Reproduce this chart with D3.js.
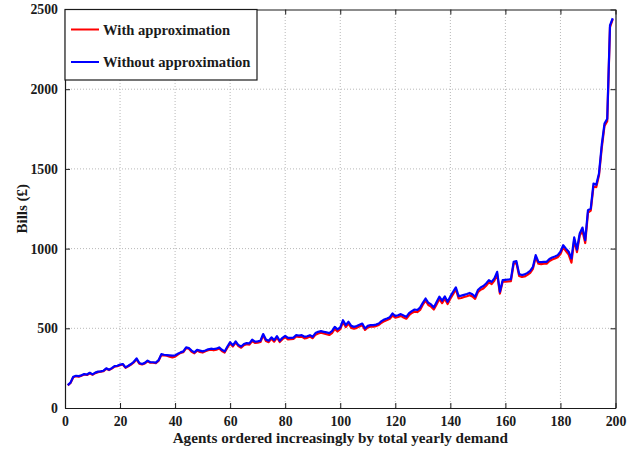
<!DOCTYPE html>
<html>
<head>
<meta charset="utf-8">
<script src="https://cdn.jsdelivr.net/npm/d3@7"></script>
<style>
  body { margin: 0; background: #fff; }
  svg text { font-family: "Liberation Serif", "Times New Roman", serif; font-weight: bold; fill: #1a1a1a; }
</style>
</head>
<body>
<svg id="chart" width="639" height="449"></svg>
<script>
// bills per agent, agents sorted by yearly demand (1..199)
const withoutApprox = [
  144,159,196,202,200,205,213,210,221,211,
  222,228,230,234,249,240,250,263,265,272,
  276,255,265,276,290,311,282,276,283,297,
  287,287,285,300,338,334,332,330,328,330,
  340,349,355,380,376,360,349,365,360,355,
  361,368,372,370,372,380,365,355,386,413,
  393,418,395,386,401,407,405,428,416,418,
  422,464,430,422,443,426,451,422,440,453,
  440,440,442,457,455,457,447,450,457,447,
  470,478,482,478,474,470,482,509,493,505,
  551,520,541,515,509,514,522,530,499,515,
  520,520,523,530,545,555,562,570,593,577,
  582,589,580,572,595,608,618,615,630,660,
  687,660,650,631,665,698,673,700,666,700,
  729,757,702,705,710,715,722,714,698,740,
  756,765,781,802,791,813,854,729,802,804,
  806,808,917,921,840,834,838,848,860,885,
  959,917,915,917,917,935,944,950,959,980,
  1021,1000,980,938,1070,994,1095,1132,1053,1241,
  1251,1408,1400,1471,1650,1784,1815,2400,2445
];

const withApprox = [
  142,157,193,199,197,203,210,207,218,209,
  219,225,228,231,246,238,247,260,262,268,
  273,252,262,272,286,305,278,273,280,293,
  284,284,282,296,332,330,328,322,318,322,
  335,346,350,375,372,352,343,360,352,348,
  356,362,366,362,366,374,358,348,378,405,
  386,410,388,378,394,400,398,420,408,410,
  414,456,420,413,435,416,442,414,432,444,
  430,432,434,449,446,448,437,440,448,438,
  460,468,472,468,463,458,470,496,480,494,
  540,508,530,503,498,503,512,520,490,505,
  510,511,514,521,535,545,552,560,580,567,
  571,578,568,560,582,596,605,602,615,648,
  674,646,636,618,650,684,658,686,652,686,
  714,745,688,690,696,701,708,700,685,726,
  742,750,767,788,778,800,842,718,792,792,
  794,796,905,910,828,822,825,835,848,873,
  946,905,903,905,905,922,932,938,946,966,
  1008,985,962,912,1055,978,1082,1110,1035,1225,
  1238,1390,1385,1460,1630,1770,1800,2390,2440
];

const xTicks = [0, 20, 40, 60, 80, 100, 120, 140, 160, 180, 200];
const yTicks = [0, 500, 1000, 1500, 2000, 2500];

const seriesNames = ["With approximation", "Without approximation"];
const seriesColors = ["#ff0000", "#0000ff"];

const margin = { left: 65, right: 23.5, top: 9.5, bottom: 41 };
const width = 639, height = 449;

let svg = d3.select("#chart");
let x = d3.scaleLinear().domain([0, 200]).range([margin.left, width - margin.right]);
let y = d3.scaleLinear().domain([0, 2500]).range([height - margin.bottom, margin.top]);

// dotted grid
let grid = svg.append("g");
xTicks.slice(1, -1).forEach(t => {
  grid.append("line")
    .attr("x1", x(t)).attr("x2", x(t)).attr("y1", y(0)).attr("y2", y(2500))
    .attr("stroke", "#b0b0b0").attr("stroke-width", 0.9).attr("stroke-dasharray", "1,2");
});
yTicks.slice(1, -1).forEach(t => {
  grid.append("line")
    .attr("x1", x(0)).attr("x2", x(200)).attr("y1", y(t)).attr("y2", y(t))
    .attr("stroke", "#b0b0b0").attr("stroke-width", 0.9).attr("stroke-dasharray", "1,2");
});

// series lines, blue drawn on top
let line = d3.line().x((d, i) => x(i + 1)).y(d => y(d));
[withApprox, withoutApprox].forEach((vals, k) => {
  svg.append("path").datum(vals)
    .attr("d", line)
    .attr("fill", "none")
    .attr("stroke", seriesColors[k])
    .attr("stroke-width", 2.2)
    .attr("stroke-linejoin", "round");
});

// axes with inward ticks, MATLAB style box
let fmt = d3.format("d");
let bottomAxis = d3.axisBottom(x).tickValues(xTicks).tickFormat(fmt).tickSizeInner(-5).tickSizeOuter(0).tickPadding(8);
let topAxis = d3.axisTop(x).tickValues(xTicks).tickSizeInner(-5).tickSizeOuter(0).tickFormat("");
let leftAxis = d3.axisLeft(y).tickValues(yTicks).tickFormat(fmt).tickSizeInner(-5).tickSizeOuter(0).tickPadding(7);
let rightAxis = d3.axisRight(y).tickValues(yTicks).tickSizeInner(-5).tickSizeOuter(0).tickFormat("");

let gb = svg.append("g").attr("transform", `translate(0,${y(0)})`).call(bottomAxis);
let gt = svg.append("g").attr("transform", `translate(0,${y(2500)})`).call(topAxis);
let gl = svg.append("g").attr("transform", `translate(${x(0)},0)`).call(leftAxis);
let gr = svg.append("g").attr("transform", `translate(${x(200)},0)`).call(rightAxis);

[gb, gt, gl, gr].forEach(g => {
  g.selectAll("path").attr("stroke", "#1a1a1a").attr("stroke-width", 1.2);
  g.selectAll("line").attr("stroke", "#1a1a1a").attr("stroke-width", 1);
  g.selectAll("text").style("font-size", "13.8px").attr("fill", "#1a1a1a");
});

svg.append("text")
  .attr("x", (x(0) + x(200)) / 2).attr("y", 443)
  .attr("text-anchor", "middle").style("font-size", "15.2px")
  .text("Agents ordered increasingly by total yearly demand");

svg.append("text")
  .attr("transform", `translate(27,${(y(0) + y(2500)) / 2}) rotate(-90)`)
  .attr("text-anchor", "middle").style("font-size", "15px")
  .text("Bills (£)");

// legend
let legend = svg.append("g");
legend.append("rect")
  .attr("x", x(0)).attr("y", y(2500))
  .attr("width", 192).attr("height", 70.5)
  .attr("fill", "#fff").attr("stroke", "#1a1a1a").attr("stroke-width", 1.2);
seriesNames.forEach((name, k) => {
  let ly = 29.5 + k * 32.5;
  legend.append("line")
    .attr("x1", 71).attr("x2", 99).attr("y1", ly).attr("y2", ly)
    .attr("stroke", seriesColors[k]).attr("stroke-width", 2);
  legend.append("text")
    .attr("x", 103).attr("y", ly + 5)
    .style("font-size", "14.6px")
    .text(name);
});
</script>
</body>
</html>
